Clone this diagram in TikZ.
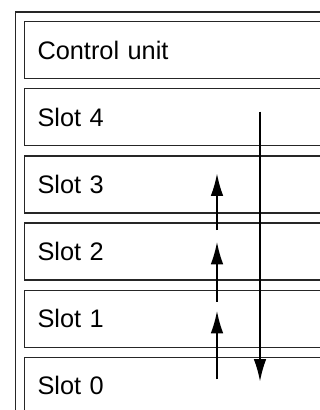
\documentclass[tikz,border=0pt]{standalone}
\usepackage{fontspec}
\setmainfont{Liberation Sans}
\usetikzlibrary{arrows.meta,positioning}
\begin{document}
\begin{tikzpicture}[x=0.75pt,y=-0.75pt,
  unit/.style={draw=black!85,line width=1pt,minimum height=42.75pt,text width=220pt,inner xsep=10pt,align=left,font=\fontsize{19}{23}\selectfont},
  flow/.style={-{Latex[length=17pt,width=9.5pt]},line width=1.5pt}]
\useasboundingbox (0,0) rectangle (320,410);
\clip (0,0) rectangle (320,410);
\draw[black!85,line width=1pt] (15.5,12) rectangle (420,480);
\node[unit,anchor=north west] (ctrl) at (23.5,21) {Control unit};
\node[unit,below=6.6pt of ctrl] (s4) {Slot 4};
\foreach \i/\j in {3/4,2/3,1/2,0/1}
  \node[unit,below=6.6pt of s\j] (s\i) {Slot \i};
\coordinate (down0) at (260,111.7); \coordinate (down1) at (260,381.7);
\draw[flow] (down0) -- (down1);
\foreach \n/\a/\b in {1/379.3/310.7,2/301.7/241.7,3/230/173.3}{
  \coordinate (from\n) at (217,\a); \coordinate (to\n) at (217,\b);
  \draw[flow] (from\n) -- (to\n);}
\end{tikzpicture}
\end{document}
